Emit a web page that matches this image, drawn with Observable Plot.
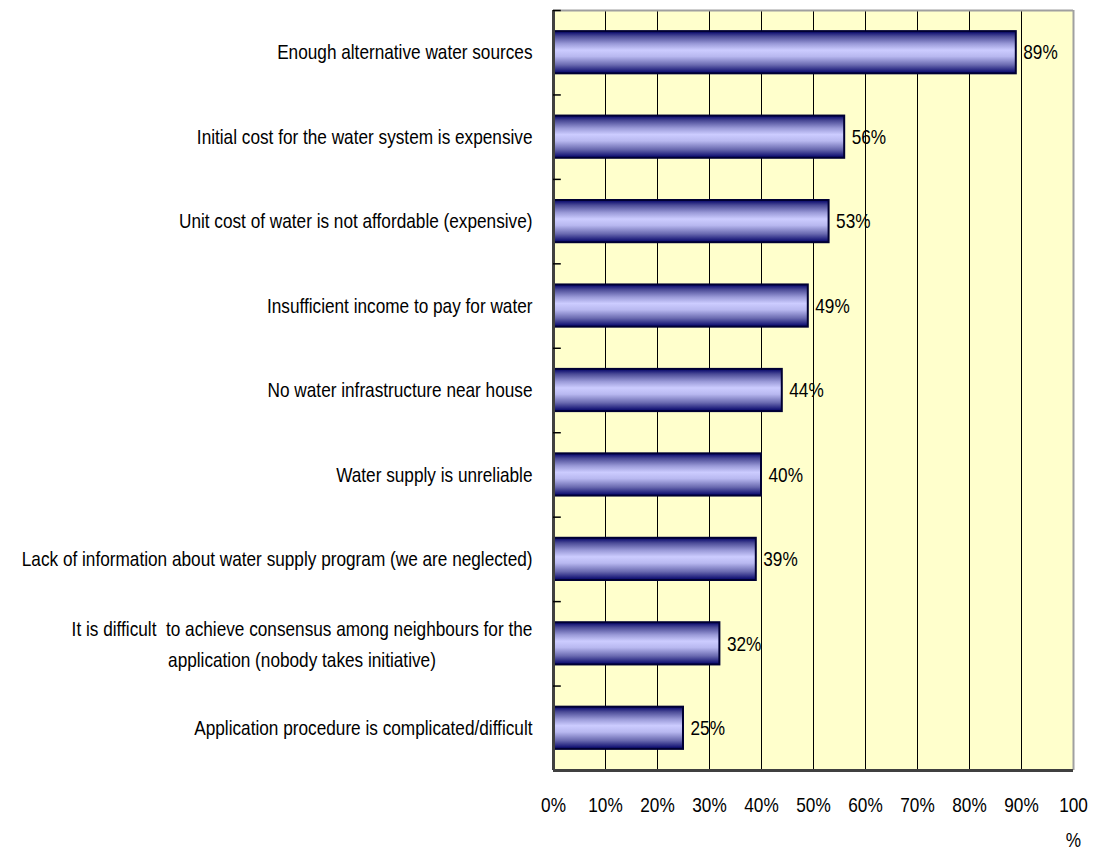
<!DOCTYPE html>
<html>
<head>
<meta charset="utf-8">
<script src="https://cdn.jsdelivr.net/npm/d3@7"></script>
<script src="https://cdn.jsdelivr.net/npm/@observablehq/plot@0.6"></script>
<style>
  html, body { margin: 0; padding: 0; background: #ffffff; }
</style>
</head>
<body>
<div id="chart"></div>
<script>
const categories = [
  "Enough alternative water sources",
  "Initial cost for the water system is expensive",
  "Unit cost of water is not affordable (expensive)",
  "Insufficient income to pay for water",
  "No water infrastructure near house",
  "Water supply is unreliable",
  "Lack of information about water supply program (we are neglected)",
  "It is difficult  to achieve consensus among neighbours for the\napplication (nobody takes initiative)",
  "Application procedure is complicated/difficult"
];
const values = [89, 56, 53, 49, 44, 40, 39, 32, 25];
const xTicks = [0, 10, 20, 30, 40, 50, 60, 70, 80, 90, 100];

const data = categories.map((c, i) => ({category: c, value: values[i]}));

const W = 1094, H = 849, mL = 553, mR = 21, mT = 10, mB = 79;
const FONT = "'Liberation Sans', Arial, sans-serif";
const FS = 21;
const SX = 0.82; // horizontal compression to mimic a narrow face
const step = (H - mT - mB) / categories.length;

function textWidth(s) {
  const ctx = document.createElement("canvas").getContext("2d");
  ctx.font = `${FS}px ${FONT}`;
  return ctx.measureText(s).width * SX;
}

const single = categories.filter(c => !c.includes("\n"));
const multi = categories.filter(c => c.includes("\n"));
const multiWidth = multi.length ? Math.max(...multi[0].split("\n").map(textWidth)) : 0;

const chart = Plot.plot({
  width: W,
  height: H,
  marginLeft: mL,
  marginRight: mR,
  marginTop: mT,
  marginBottom: mB,
  style: {fontFamily: FONT, fontSize: FS + "px", background: "#ffffff", color: "#000000"},
  x: {domain: [0, 100], axis: null},
  y: {domain: categories, paddingInner: 0.5, paddingOuter: 0.25, round: false, axis: null},
  marks: [
    Plot.frame({fill: "#ffffcc", stroke: null}),
    Plot.ruleX(xTicks.filter(t => t > 0 && t < 100), {stroke: "#000000", strokeWidth: 1}),
    Plot.ruleY([0], {y: () => categories[0], dy: -step / 2, x1: 0, x2: 100, stroke: "#a0a0a0", strokeWidth: 2}),
    Plot.ruleX([100], {stroke: "#a0a0a0", strokeWidth: 2}),
    Plot.barX(data, {x: "value", y: "category", fill: "url(#barGrad)", stroke: "#000033", strokeWidth: 2}),
    Plot.text(data, {x: "value", y: "category", text: d => d.value + "%", textAnchor: "start", dx: 7, fill: "#000000"}),
    Plot.ruleX([0], {stroke: "#404040", strokeWidth: 3}),
    Plot.ruleY(categories, {y: d => d, dy: -step / 2, x1: 0, x2: 1.5, stroke: "#000000", strokeWidth: 1.5}),
    Plot.ruleY([0], {y: () => categories[categories.length - 1], dy: step / 2, x1: 0, x2: 100, stroke: "#404040", strokeWidth: 3}),
    Plot.axisX({ticks: xTicks, tickSize: 0, tickPadding: 17, label: null, lineHeight: 1.65, tickFormat: d => d === 100 ? "100\n%" : d + "%", fill: "#000000"}),
    Plot.text(single, {x: () => 0, y: d => d, text: d => d, textAnchor: "end", dx: -21, fill: "#000000"}),
    Plot.text(multi, {x: () => 0, y: d => d, text: d => d, textAnchor: "middle", dx: -21 - multiWidth / 2, dy: -2, lineHeight: 1.48, fill: "#000000"})
  ]
});

// compress every text horizontally around its own anchor point
const isNum = v => v != null && /^-?[\d.]+$/.test(v.trim());
chart.querySelectorAll("text").forEach(t => {
  const tr = t.getAttribute("transform");
  if (tr) {
    t.setAttribute("transform", `${tr} scale(${SX},1)`);
  } else {
    const xa = t.getAttribute("x");
    const ax = isNum(xa) ? +xa : 0;
    t.setAttribute("transform", `translate(${ax},0) scale(${SX},1) translate(${-ax},0)`);
  }
});

const ns = "http://www.w3.org/2000/svg";
const defs = document.createElementNS(ns, "defs");
defs.innerHTML = `
  <linearGradient id="barGrad" x1="0" y1="0" x2="0" y2="1">
    <stop offset="0" stop-color="#000066"/>
    <stop offset="0.12" stop-color="#4a4a96"/>
    <stop offset="0.3" stop-color="#9a9ad8"/>
    <stop offset="0.45" stop-color="#ccccff"/>
    <stop offset="0.6" stop-color="#b8b8f0"/>
    <stop offset="0.8" stop-color="#6a6ab0"/>
    <stop offset="1" stop-color="#000066"/>
  </linearGradient>`;
chart.insertBefore(defs, chart.firstChild);

document.getElementById("chart").appendChild(chart);
</script>
</body>
</html>
